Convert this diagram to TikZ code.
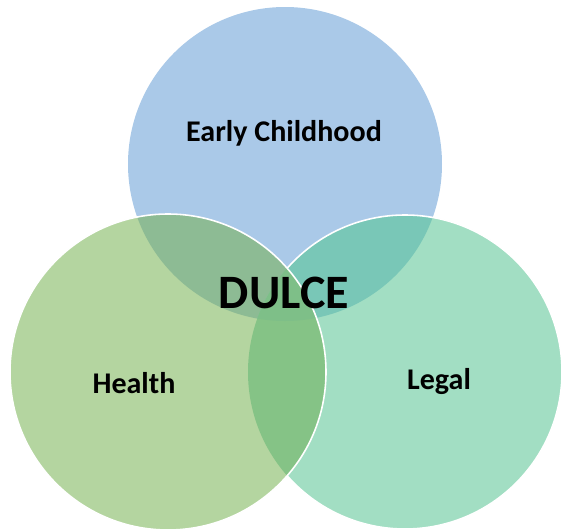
\documentclass[tikz,border=0pt]{standalone}
\usepackage{fontspec}
\setmainfont{Carlito}
\definecolor{cblue}{HTML}{AAC9E8}
\definecolor{cgreen}{HTML}{B4D5A0}
\definecolor{cteal}{HTML}{A2DEC3}
\definecolor{cbg}{HTML}{8DBB94}
\definecolor{cbt}{HTML}{79C7B7}
\definecolor{cgt}{HTML}{85C386}
\definecolor{cbgt}{HTML}{7EBF88}
\tikzset{
  lbl/.style={font=\bfseries\fontsize{17.1}{20}\selectfont, text=black},
  biglbl/.style={font=\bfseries\fontsize{27.3}{32}\selectfont, text=black},
  edge/.style={draw=white, line width=0.9pt}
}
\begin{document}
\begin{tikzpicture}[x=0.02cm,y=-0.02cm]
\useasboundingbox (0,0) rectangle (562,531);
\def\B{(285,164) circle (157)}
\def\G{(168,372) circle (158)}
\def\T{(405,372) circle (157)}
\fill[cblue] \B;
\fill[cteal] \T;
\fill[cgreen] \G;
\begin{scope}\clip \B; \fill[cbg] \G; \end{scope}
\begin{scope}\clip \B; \fill[cbt] \T; \end{scope}
\begin{scope}\clip \G; \fill[cgt] \T; \end{scope}
\begin{scope}\clip \B; \clip \G; \fill[cbgt] \T; \end{scope}
\begin{scope}
  \clip (0,0) rectangle (562,531) \G;
  \draw[edge] \T;
\end{scope}
\draw[edge] \G;
\node[lbl] (early) at (284,133) {Early Childhood};
\node[biglbl] (dulce) at (284,293) {DULCE};
\node[lbl] (health) at (134,383) {Health};
\node[lbl] (legal) at (439,382) {Legal};
\end{tikzpicture}
\end{document}
